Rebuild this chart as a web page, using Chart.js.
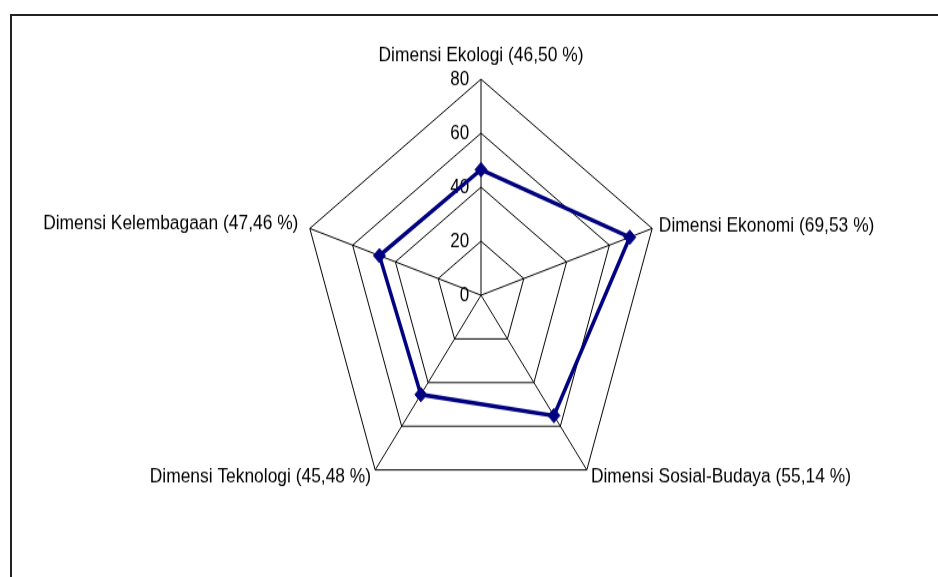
<!DOCTYPE html>
<html>
<head>
<meta charset="utf-8">
<script src="https://cdn.jsdelivr.net/npm/chart.js@4.4.1/dist/chart.umd.min.js"></script>
<style>
  html, body { margin: 0; padding: 0; background: #fff; overflow: hidden; width: 938px; height: 577px; }
  #frame { position: absolute; left: 10px; top: 14px; width: 1000px; height: 700px;
           border-left: 2px solid #222; border-top: 2px solid #222; }
  /* the original picture is stretched vertically, so the canvas is too */
  #wrap { position: absolute; left: 0; top: 0; width: 1000px; height: 481px;
          transform: scaleY(1.2); transform-origin: 0 0; }
</style>
</head>
<body>
<div id="frame"></div>
<div id="wrap"><canvas id="radarChart"></canvas></div>
<script>
const dimensions = [
  'Dimensi Ekologi (46,50 %)',
  'Dimensi Ekonomi (69,53 %)',
  'Dimensi Sosial-Budaya (55,14 %)',
  'Dimensi Teknologi (45,48 %)',
  'Dimensi Kelembagaan (47,46 %)'
];
const scores = [46.50, 69.53, 55.14, 45.48, 47.46];
const tickValues = [0, 20, 40, 60, 80];

// label distance from the outer ring, per axis (chart.js adds the tick backdrop half height on top)
const labelGap = [9.5, -3.5, -3.5, -3.5, 1.5];

const ctx = document.getElementById('radarChart').getContext('2d');
new Chart(ctx, {
  type: 'radar',
  data: {
    labels: dimensions,
    datasets: [{
      data: scores,
      borderColor: '#000080',
      backgroundColor: '#000080',
      borderWidth: 3.5,
      fill: false,
      tension: 0,
      pointStyle: 'rectRot',
      pointRadius: 6,
      pointBorderWidth: 1,
      pointBackgroundColor: '#000080',
      pointBorderColor: '#000080'
    }]
  },
  options: {
    responsive: true,
    maintainAspectRatio: false,
    animation: false,
    layout: { padding: { top: 41, bottom: 39, left: 0, right: 38 } },
    plugins: {
      legend: { display: false },
      tooltip: { enabled: false }
    },
    scales: {
      r: {
        // tiny negative min so the "0" tick label gets drawn
        min: -0.000001,
        max: tickValues[tickValues.length - 1],
        ticks: {
          stepSize: 20,
          color: '#000',
          showLabelBackdrop: false,
          font: { family: '"Liberation Sans", Arial, sans-serif', size: 17 },
          callback: function(value) {
            const t = String(Math.round(value));
            return t + ' '.repeat(t.length > 1 ? 9 : 7);
          }
        },
        grid: { color: '#000', lineWidth: 1 },
        angleLines: { color: '#000', lineWidth: 1 },
        pointLabels: {
          color: '#000',
          padding: function(c) { return labelGap[c.index]; },
          font: { family: '"Liberation Sans", Arial, sans-serif', size: 17.4, lineHeight: 0 }
        }
      }
    }
  }
});
</script>
</body>
</html>
